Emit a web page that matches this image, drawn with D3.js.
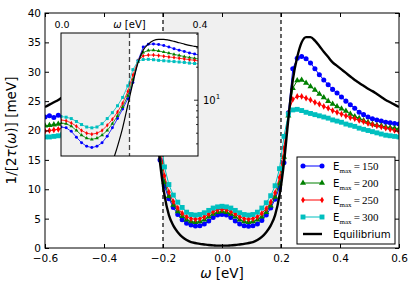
<!DOCTYPE html>
<html><head><meta charset="utf-8">
<script src="https://cdn.jsdelivr.net/npm/d3@7"></script>
<style>
  body { margin: 0; background: #fff; }
  text { font-family: "DejaVu Sans", sans-serif; }
</style>
</head><body>
<svg width="415" height="291"></svg>
<script>
// frequency grid [eV]
const omega = [-0.6,-0.585,-0.57,-0.555,-0.54,-0.525,-0.51,-0.495,-0.48,-0.465,-0.45,-0.435,-0.42,-0.405,-0.39,-0.375,-0.36,-0.345,-0.33,-0.315,-0.3,-0.285,-0.27,-0.255,-0.24,-0.225,-0.21,-0.195,-0.18,-0.165,-0.15,-0.135,-0.12,-0.105,-0.09,-0.075,-0.06,-0.045,-0.03,-0.015,
  0,0.015,0.03,0.045,0.06,0.075,0.09,0.105,0.12,0.135,0.15,0.165,0.18,0.195,0.21,0.225,0.24,0.255,0.27,0.285,0.3,0.315,0.33,0.345,0.36,0.375,0.39,0.405,0.42,0.435,0.45,0.465,0.48,0.495,0.51,0.525,0.54,0.555,0.57,0.585,0.6];

// 1/[2tau(omega)] in meV for each cutoff
const emax150 = [22.3,22.5,22.2,22.6,22.4,22.7,22.9,23.1,23.4,23.8,24.2,24.7,25.2,25.8,26.5,27.2,28.0,28.8,29.7,30.6,31.5,32.2,32.6,32.3,30.5,23.5,15.0,10.5,8.4,6.9,5.7,4.8,4.2,3.9,3.75,3.8,4.1,4.6,5.2,5.6,
  5.7,5.6,5.2,4.6,4.1,3.8,3.7,3.8,4.1,4.7,5.6,6.8,8.3,10.3,14.5,23.0,30.5,32.3,32.6,32.2,31.5,30.5,29.5,28.6,27.8,27.0,26.4,25.7,25.0,24.4,23.8,23.1,22.7,22.3,22.0,21.8,21.6,21.4,21.3,21.2,21.1];
const emax200 = [20.8,20.9,21.0,21.1,21.3,21.5,21.7,22.0,22.3,22.6,22.9,23.3,23.7,24.1,24.5,24.9,25.4,25.9,26.4,27.0,27.6,28.2,28.6,28.5,27.3,22.8,16.0,11.2,8.8,7.3,6.2,5.4,4.8,4.5,4.4,4.5,4.8,5.3,5.8,6.1,
  6.2,6.1,5.8,5.3,4.8,4.5,4.4,4.5,4.8,5.3,6.1,7.2,8.7,11.0,15.5,22.5,27.2,28.5,28.6,28.1,27.5,26.9,26.2,25.6,25.0,24.5,24.1,23.7,23.3,22.8,22.4,22.1,21.7,21.4,21.1,20.9,20.8,20.6,20.5,20.4,20.3];
const emax250 = [19.9,20.0,20.1,20.2,20.4,20.6,20.8,21.1,21.3,21.6,21.9,22.2,22.5,22.8,23.1,23.4,23.8,24.1,24.5,24.8,25.2,25.5,25.8,25.8,25.3,23.2,17.5,12.3,9.5,7.9,6.8,5.9,5.3,5.0,4.9,5.0,5.3,5.8,6.2,6.5,
  6.6,6.5,6.2,5.8,5.3,5.0,4.9,5.0,5.3,5.9,6.7,7.8,9.4,12.0,17.0,23.0,25.3,25.8,25.8,25.5,25.2,24.8,24.5,24.1,23.8,23.4,23.1,22.8,22.5,22.2,22.0,21.7,21.5,21.2,21.0,20.8,20.6,20.4,20.2,20.0,19.8];
const emax300 = [18.9,18.9,19.0,19.1,19.3,19.5,19.7,19.9,20.1,20.3,20.6,20.8,21.0,21.3,21.5,21.7,22.0,22.2,22.4,22.6,22.8,23.1,23.4,23.6,23.5,22.9,19.5,13.8,10.8,9.0,7.8,6.9,6.1,5.7,5.6,5.7,6.0,6.4,6.8,7.0,
  7.1,7.0,6.8,6.4,6.0,5.7,5.6,5.7,6.1,6.8,7.7,8.9,10.6,13.5,19.0,22.8,23.5,23.6,23.4,23.1,22.9,22.7,22.5,22.3,22.1,21.8,21.6,21.4,21.1,20.9,20.7,20.4,20.2,20.0,19.8,19.6,19.4,19.2,19.1,19.0,18.9];
const equilibrium = [24.0,24.4,24.8,25.2,25.7,26.2,26.7,27.1,27.6,28.1,28.6,29.2,29.8,30.4,31.0,31.6,32.5,33.4,34.4,35.3,35.9,35.9,35.0,32.5,28.6,22.0,14.5,9.0,5.6,3.8,2.7,1.9,1.35,1.0,0.85,0.7,0.6,0.5,0.45,0.4,
  0.4,0.4,0.45,0.5,0.6,0.7,0.85,1.0,1.35,1.9,2.7,3.8,5.6,9.0,14.5,22.0,28.6,32.5,35.0,35.9,35.9,35.3,34.4,33.4,32.5,31.6,31.0,30.4,29.8,29.2,28.6,28.1,27.6,27.1,26.7,26.2,25.7,25.2,24.8,24.4,24.0];

const xTicks = [-0.6,-0.4,-0.2,0.0,0.2,0.4,0.6];
const yTicks = [0,5,10,15,20,25,30,35,40];
const labels = ['150','200','250','300'];

const svg = d3.select('svg');
const margin = { top: 13, left: 45, bottom: 43, right: 16 };
const width = 415, height = 291;

const x = d3.scaleLinear().domain([-0.6, 0.6]).range([margin.left, width - margin.right]);
const y = d3.scaleLinear().domain([0, 40]).range([height - margin.bottom, margin.top]);

const series = [
  { values: emax150, color: '#0000ff', sym: d3.symbolCircle,   size: 20, small: 7 },
  { values: emax200, color: '#008000', sym: d3.symbolTriangle, size: 16, small: 6 },
  { values: emax250, color: '#ff0000', sym: d3.symbolDiamond,  size: 13, small: 6 },
  { values: emax300, color: '#00bfbf', sym: d3.symbolSquare,   size: 24, small: 9 }
];

const defs = svg.append('defs');
defs.append('clipPath').attr('id', 'mainclip').append('rect')
  .attr('x', x(-0.6)).attr('y', y(40)).attr('width', x(0.6) - x(-0.6)).attr('height', y(0) - y(40));

// shaded window and dashed edges
svg.append('rect').attr('x', x(-0.2)).attr('y', y(40))
  .attr('width', x(0.2) - x(-0.2)).attr('height', y(0) - y(40)).attr('fill', '#f0f0f0');
[-0.2, 0.2].forEach(v => {
  svg.append('line').attr('x1', x(v)).attr('x2', x(v)).attr('y1', y(40)).attr('y2', y(0))
    .attr('stroke', '#000').attr('stroke-width', 1.2).attr('stroke-dasharray', '4,3');
});

const pts = vals => omega.map((w, i) => [w, vals[i]]);
const plot = svg.append('g').attr('clip-path', 'url(#mainclip)');
const line = d3.line().x(d => x(d[0])).y(d => y(d[1]));

series.forEach(s => {
  const d = pts(s.values);
  plot.append('path').datum(d).attr('d', line).attr('fill', 'none')
    .attr('stroke', s.color).attr('stroke-width', 1);
  plot.selectAll(null).data(d).enter().append('path')
    .attr('d', d3.symbol().type(s.sym).size(s.size))
    .attr('transform', p => `translate(${x(p[0])},${y(p[1])})`)
    .attr('fill', s.color);
});
plot.append('path').datum(pts(equilibrium))
  .attr('d', line.curve(d3.curveMonotoneX)).attr('fill', 'none')
  .attr('stroke', '#000').attr('stroke-width', 2.4);

// axes
const fmtX = d3.format('.1f');
const styleAxis = g => {
  g.select('.domain').remove();
  g.selectAll('line').attr('stroke', '#000');
  g.selectAll('text').attr('font-size', 10.5).attr('fill', '#000').attr('font-family', 'DejaVu Sans');
};
svg.append('g').attr('transform', `translate(0,${y(0)})`)
  .call(d3.axisBottom(x).tickValues(xTicks).tickFormat(fmtX).tickSizeInner(-4).tickSizeOuter(0).tickPadding(7))
  .call(styleAxis);
svg.append('g').attr('transform', `translate(0,${y(40)})`)
  .call(d3.axisTop(x).tickValues(xTicks).tickFormat('').tickSizeInner(-4).tickSizeOuter(0))
  .call(styleAxis);
svg.append('g').attr('transform', `translate(${x(-0.6)},0)`)
  .call(d3.axisLeft(y).tickValues(yTicks).tickSizeInner(-4).tickSizeOuter(0).tickPadding(4))
  .call(styleAxis);
svg.append('g').attr('transform', `translate(${x(0.6)},0)`)
  .call(d3.axisRight(y).tickValues(yTicks).tickFormat('').tickSizeInner(-4).tickSizeOuter(0))
  .call(styleAxis);

// axis labels
const xl = svg.append('text').attr('x', (x(-0.6) + x(0.6)) / 2).attr('y', 278)
  .attr('text-anchor', 'middle').attr('font-size', 13.5);
xl.append('tspan').attr('font-style', 'italic').text('ω');
xl.append('tspan').text(' [eV]');

const yl = svg.append('text').attr('transform', `translate(16,${(y(0) + y(40)) / 2}) rotate(-90)`)
  .attr('text-anchor', 'middle').attr('font-size', 13.5);
yl.append('tspan').text('1/[2');
yl.append('tspan').attr('font-style', 'italic').text('τ');
yl.append('tspan').text('(');
yl.append('tspan').attr('font-style', 'italic').text('ω');
yl.append('tspan').text(')] [meV]');

// ---- inset: positive side on a log scale
const ix = d3.scaleLinear().domain([0, 0.4]).range([61, 198]);
const iy = d3.scaleLog().domain([3.1, 41]).range([156, 33]);
defs.append('clipPath').attr('id', 'insetclip').append('rect')
  .attr('x', ix(0)).attr('y', iy(41)).attr('width', ix(0.4) - ix(0)).attr('height', iy(3.1) - iy(41));

const inset = svg.append('g');
inset.append('rect').attr('x', ix(0)).attr('y', iy(41))
  .attr('width', ix(0.4) - ix(0)).attr('height', iy(3.1) - iy(41)).attr('fill', '#fff');
inset.append('rect').attr('x', ix(0)).attr('y', iy(41))
  .attr('width', ix(0.2) - ix(0)).attr('height', iy(3.1) - iy(41)).attr('fill', '#f0f0f0');
inset.append('line').attr('x1', ix(0.2)).attr('x2', ix(0.2)).attr('y1', iy(41)).attr('y2', iy(3.1))
  .attr('stroke', '#444').attr('stroke-width', 1.3).attr('stroke-dasharray', '5,3');

const ig = inset.append('g').attr('clip-path', 'url(#insetclip)');
const iline = d3.line().x(d => ix(d[0])).y(d => iy(d[1]));
const ipts = vals => pts(vals).filter(p => p[0] >= -0.016 && p[0] <= 0.416);
series.forEach(s => {
  const d = ipts(s.values);
  ig.append('path').datum(d).attr('d', iline).attr('fill', 'none')
    .attr('stroke', s.color).attr('stroke-width', 0.8);
  ig.selectAll(null).data(d).enter().append('path')
    .attr('d', d3.symbol().type(s.sym).size(s.small))
    .attr('transform', p => `translate(${ix(p[0])},${iy(p[1])})`)
    .attr('fill', s.color);
});
ig.append('path').datum(ipts(equilibrium)).attr('d', iline.curve(d3.curveMonotoneX))
  .attr('fill', 'none').attr('stroke', '#000').attr('stroke-width', 1.2);

inset.append('rect').attr('x', ix(0)).attr('y', iy(41))
  .attr('width', ix(0.4) - ix(0)).attr('height', iy(3.1) - iy(41))
  .attr('fill', 'none').attr('stroke', '#000').attr('stroke-width', 1);

// inset ticks (right side, log)
[4, 5, 6, 7, 8, 9, 10, 20, 30, 40].forEach(v => {
  const len = v === 10 ? 4 : 2;
  inset.append('line').attr('x1', ix(0.4)).attr('x2', ix(0.4) - len)
    .attr('y1', iy(v)).attr('y2', iy(v)).attr('stroke', '#000').attr('stroke-width', 0.8);
});
const t10 = inset.append('text').attr('x', ix(0.4) + 5).attr('y', iy(10) + 4).attr('font-size', 10);
t10.append('tspan').text('10');
t10.append('tspan').attr('font-size', 7).attr('dy', -5).text('1');

[0, 0.4].forEach(v => {
  inset.append('text').attr('x', ix(v) + (v === 0 ? 1 : 2)).attr('y', 28).attr('text-anchor', 'middle')
    .attr('font-size', 9.5).text(fmtX(v));
});
const il = inset.append('text').attr('x', (ix(0) + ix(0.4)) / 2).attr('y', 28)
  .attr('text-anchor', 'middle').attr('font-size', 10);
il.append('tspan').attr('font-style', 'italic').text('ω');
il.append('tspan').text(' [eV]');

// ---- legend
const lg = svg.append('g').attr('transform', 'translate(297,157)');
lg.append('rect').attr('width', 98).attr('height', 87)
  .attr('fill', '#fff').attr('stroke', '#000').attr('stroke-width', 1);
series.forEach((s, i) => {
  const cy = 9 + i * 17;
  lg.append('line').attr('x1', 6).attr('x2', 25).attr('y1', cy).attr('y2', cy)
    .attr('stroke', s.color).attr('stroke-width', 1);
  [6, 25].forEach(cx => lg.append('path').attr('d', d3.symbol().type(s.sym).size(s.size))
    .attr('transform', `translate(${cx},${cy})`).attr('fill', s.color));
  const t = lg.append('text').attr('x', 36).attr('y', cy + 4).attr('font-size', 10.2);
  t.append('tspan').text('E');
  t.append('tspan').attr('font-size', 7).attr('dy', 2.5).attr('font-family', 'Liberation Serif').text('max');
  t.append('tspan').attr('dy', -2.5).attr('font-size', 11).attr('font-family', 'Liberation Serif')
    .text('\u2009=\u2009' + labels[i]);
});
lg.append('line').attr('x1', 6).attr('x2', 25).attr('y1', 77).attr('y2', 77)
  .attr('stroke', '#000').attr('stroke-width', 2.4);
lg.append('text').attr('x', 36).attr('y', 81).attr('font-size', 10.2).text('Equilibrium');

// frame
svg.append('rect').attr('x', x(-0.6)).attr('y', y(40))
  .attr('width', x(0.6) - x(-0.6)).attr('height', y(0) - y(40))
  .attr('fill', 'none').attr('stroke', '#000').attr('stroke-width', 1);
</script>
</body></html>
